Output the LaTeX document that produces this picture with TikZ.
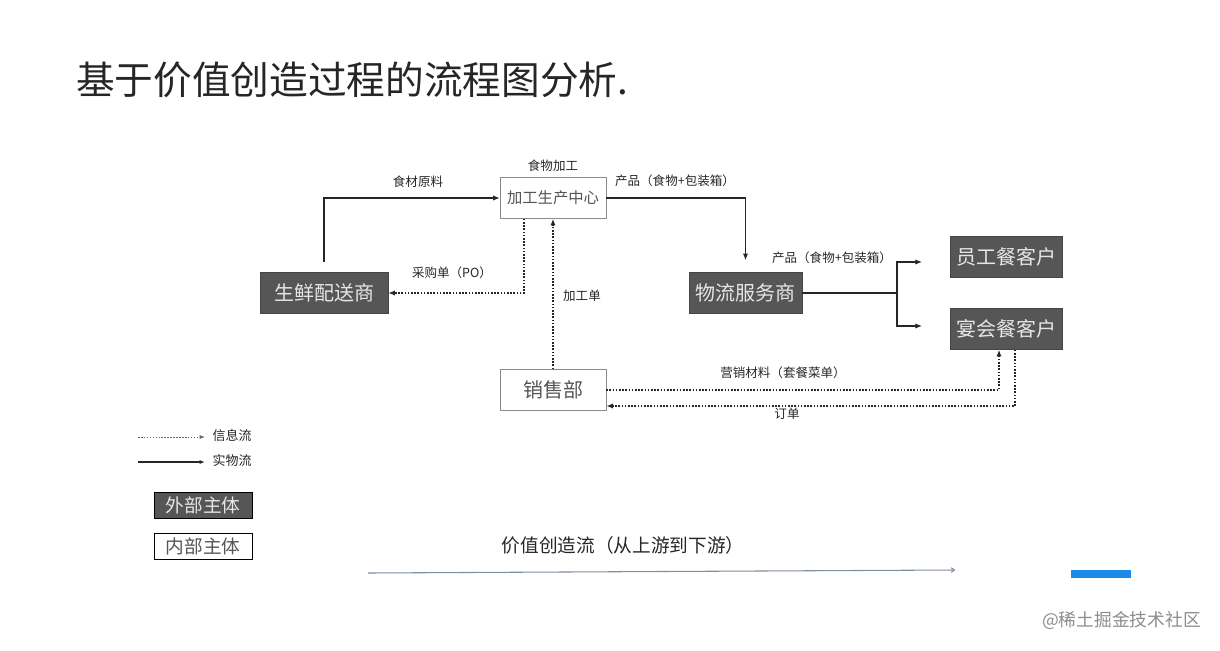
\documentclass[tikz,border=0pt]{standalone}
\usepackage{fontspec}
\setmainfont{Noto Sans CJK SC}
\usetikzlibrary{arrows.meta,calc}
\definecolor{darkbox}{HTML}{565656}
\definecolor{boxtext}{HTML}{E6E6E6}
\definecolor{lightborder}{HTML}{8A8A8A}
\definecolor{lighttext}{HTML}{555555}
\definecolor{flowline}{HTML}{7F8FA0}
\definecolor{accent}{HTML}{1A8BE6}
\tikzset{
  extbox/.style={draw=darkbox!80!black, fill=darkbox, text=boxtext, font=\fontsize{15}{18}\selectfont, inner sep=0pt, minimum height=30.75pt},
  intbox/.style={draw=lightborder, fill=white, text=lighttext, inner sep=0pt, minimum height=30.75pt},
  lbl/.style={font=\fontsize{9.4}{11}\selectfont, text=black!85, inner sep=0pt},
  solidflow/.style={draw=black!85, line width=0.9pt, -{Latex[length=5pt,width=4pt]}},
  infoflow/.style={draw=black!85, line width=1pt, dash pattern=on 1.2pt off 1.2pt, -{Latex[length=5pt,width=4pt]}},
}
\begin{document}
\begin{tikzpicture}[x=0.75pt,y=-0.75pt]
\useasboundingbox (0,0) rectangle (1220,650);
% title
\node[anchor=west, inner sep=0pt, text=black!85, font=\fontsize{29}{32}\selectfont] (title) at (76,80) {基于价值创造过程的流程图分析.};
% nodes
\node[intbox, minimum width=79.5pt, font=\fontsize{11.5}{14}\selectfont] (jg) at (553,198) {加工生产中心};
\node[lbl] (jglbl) at (553,166) {食物加工};
\node[extbox, minimum width=96pt] (gys) at (324,293) {生鲜配送商};
\node[extbox, minimum width=84.75pt] (wl) at (745.5,293) {物流服务商};
\node[extbox, minimum width=84pt] (yg) at (1006,257) {员工餐客户};
\node[extbox, minimum width=84pt] (yh) at (1006,329) {宴会餐客户};
\node[intbox, minimum width=79.5pt, font=\fontsize{15}{18}\selectfont] (xs) at (553,390) {销售部};
% connectors
\draw[solidflow, shorten <=7.5pt] (gys.north) |- (jg.west);
\node[lbl] (l1) at (418,182) {食材原料};
\draw[infoflow] ($(jg.south)+(-29,0)$) |- (gys.east);
\node[lbl] (l2) at (452,273) {采购单（PO）};
\draw[infoflow] (xs.north) -- (jg.south);
\node[lbl] (l3) at (582,296) {加工单};
\draw[solidflow, shorten >=9pt] (jg.east) -| (wl.north);
\node[lbl] (l4) at (675,181) {产品（食物+包装箱）};
\coordinate (br) at (897,293);
\coordinate (brup) at (922,262);
\coordinate (brdn) at (922,326);
\draw[black!85, line width=0.9pt] (wl.east) -- (br);
\draw[solidflow] (br) |- (brup);
\draw[solidflow] (br) |- (brdn);
\node[lbl] (l5) at (832,258) {产品（食物+包装箱）};
\draw[infoflow] (xs.east) -| ($(yh.south)+(-7,0)$);
\node[lbl] (l6) at (783,373) {营销材料（套餐菜单）};
\draw[infoflow] ($(yh.south)+(9,0)$) |- ($(xs.east)+(0,16)$);
\node[lbl] (l7) at (787,414) {订单};
% legend
\coordinate (li1) at (138,437);
\coordinate (li2) at (205,437);
\coordinate (ls1) at (138,462);
\coordinate (ls2) at (205,462);
\draw[draw=black!60, line width=0.6pt, dash pattern=on 1.2pt off 1pt, -{Latex[length=4pt,width=3pt]}] (li1) -- (li2);
\draw[draw=black!85, line width=0.8pt, -{Latex[length=4pt,width=3pt]}] (ls1) -- (ls2);
\node[lbl, font=\fontsize{9.75}{12}\selectfont] (lg1) at (232,436) {信息流};
\node[lbl, font=\fontsize{9.75}{12}\selectfont] (lg2) at (232,461) {实物流};
\node[extbox, draw=black, minimum width=73.5pt, minimum height=19.5pt, font=\fontsize{14}{16}\selectfont] (lg3) at (203,505) {外部主体};
\node[intbox, draw=black, minimum width=73.5pt, minimum height=19.5pt, font=\fontsize{14}{16}\selectfont] (lg4) at (203,546) {内部主体};
% value flow
\node[inner sep=0pt, text=black!85, font=\fontsize{14}{16}\selectfont] (vf) at (623,545) {价值创造流（从上游到下游）};
\coordinate (vf1) at (368,573);
\coordinate (vf2) at (955,570);
\draw[flowline, line width=0.8pt, -{To[length=3pt,width=4pt]}] (vf1) -- (vf2);
\fill[accent] (1071,570) rectangle (1131,578);
\node[anchor=east, inner sep=0pt, text=black!45, font=\fontsize{13.3}{16}\selectfont] (wm) at (1201,620) {@稀土掘金技术社区};
\end{tikzpicture}
\end{document}
